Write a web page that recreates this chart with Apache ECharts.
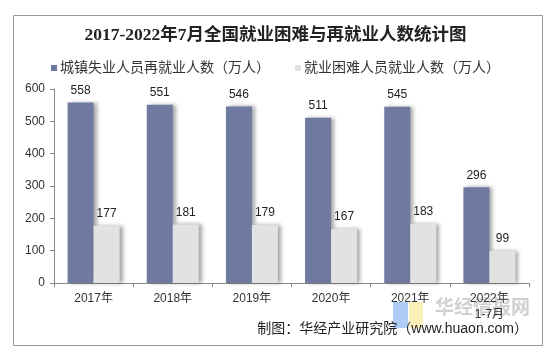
<!DOCTYPE html>
<html>
<head>
<meta charset="utf-8">
<script src="https://cdn.jsdelivr.net/npm/echarts@6/dist/echarts.min.js"></script>
<style>
  html, body { margin: 0; padding: 0; background: #fff; }
  #chart { width: 551px; height: 353px; }
</style>
</head>
<body>
<div id="chart"></div>
<script>
var years = ["2017年", "2018年", "2019年", "2020年", "2021年", "2022年\n1-7月"];
var reemployed = [558, 551, 546, 511, 545, 296];
var hardship = [177, 181, 179, 167, 183, 99];
var yTicks = { min: 0, max: 600, interval: 100 };

var font = "Arial, 'Liberation Sans', 'Noto Sans CJK SC', sans-serif";
var chart = echarts.init(document.getElementById("chart"));

var options = {
  animation: false,
  textStyle: { fontFamily: font },
  title: {
    text: "2017-2022年7月全国就业困难与再就业人数统计图",
    left: "center",
    top: 22,
    textStyle: {
      fontSize: 17.5,
      fontWeight: "bold",
      color: "#222",
      fontFamily: "'Liberation Serif', 'Noto Sans CJK SC', serif"
    }
  },
  legend: {
    top: 56,
    left: "center",
    itemWidth: 6,
    itemHeight: 6,
    itemGap: 25,
    icon: "rect",
    textStyle: { fontSize: 14, color: "#333", padding: [0, 0, 0, -2] },
    data: ["城镇失业人员再就业人数（万人）", "就业困难人员就业人数（万人）"]
  },
  grid: { left: 54, right: 22, top: 89, bottom: 70 },
  xAxis: {
    type: "category",
    data: years,
    axisLine: { lineStyle: { color: "#888" } },
    axisTick: { show: true, length: 4, lineStyle: { color: "#888" } },
    axisLabel: { color: "#333", fontSize: 12, margin: 8, lineHeight: 16 }
  },
  yAxis: {
    type: "value",
    min: yTicks.min,
    max: yTicks.max,
    interval: yTicks.interval,
    splitLine: { show: false },
    axisLine: { show: true, lineStyle: { color: "#888" } },
    axisTick: { show: true, length: 4, lineStyle: { color: "#888" } },
    axisLabel: { color: "#333", fontSize: 12, margin: 9 }
  },
  series: [
    {
      name: "城镇失业人员再就业人数（万人）",
      type: "bar",
      data: reemployed,
      barWidth: 26,
      barGap: "0%",
      itemStyle: {
        color: "#6f7aa1",
        shadowColor: "rgba(0,0,0,0.35)",
        shadowBlur: 4,
        shadowOffsetX: 3
      },
      label: { show: true, position: "top", color: "#222", fontSize: 12, distance: 6 }
    },
    {
      name: "就业困难人员就业人数（万人）",
      type: "bar",
      data: hardship,
      barWidth: 26,
      itemStyle: {
        color: "#e2e2e2",
        shadowColor: "rgba(0,0,0,0.35)",
        shadowBlur: 4,
        shadowOffsetX: 3
      },
      label: { show: true, position: "top", color: "#222", fontSize: 12, distance: 6 }
    }
  ],
  graphic: [
    {
      type: "rect",
      left: 11,
      top: 13,
      shape: { width: 529, height: 330 },
      style: { fill: "none", stroke: "#999", lineWidth: 1 },
      silent: true
    },
    {
      type: "rect",
      left: 393,
      top: 302,
      shape: { width: 15, height: 26 },
      style: { fill: "rgba(120,170,240,0.6)" },
      silent: true
    },
    {
      type: "rect",
      left: 409,
      top: 302,
      shape: { width: 14, height: 26 },
      style: { fill: "rgba(250,230,140,0.6)" },
      silent: true
    },
    {
      type: "text",
      left: 435,
      top: 297,
      style: {
        text: "华经情报网",
        fill: "rgba(150,150,150,0.45)",
        font: "bold 19px 'Noto Sans CJK SC', sans-serif"
      },
      silent: true
    },
    {
      type: "text",
      right: 23,
      top: 322,
      style: {
        text: "制图：华经产业研究院（www.huaon.com）",
        fill: "#222",
        font: "14px Arial, 'Noto Sans CJK SC', sans-serif"
      },
      silent: true
    }
  ]
};

chart.setOption(options);
</script>
</body>
</html>
